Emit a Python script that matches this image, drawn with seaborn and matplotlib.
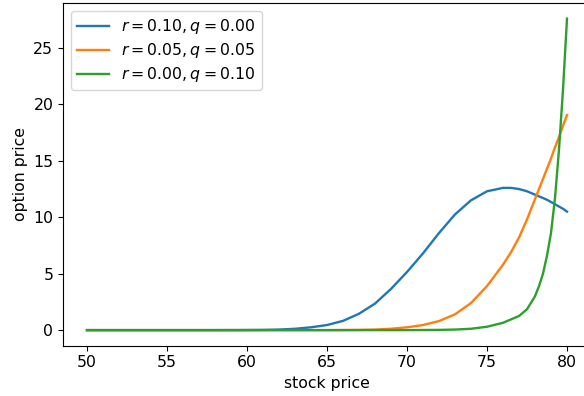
import matplotlib
matplotlib.use("Agg")
import matplotlib.pyplot as plt
import seaborn as sns
import pandas as pd

# precio de la accion (eje x)
stock_price = [50, 55, 58, 60, 61, 62, 63, 64, 65, 66, 67, 68, 69, 70, 71, 72, 73, 74, 75,
               76, 76.5, 77, 77.5, 78, 78.25, 78.5, 78.75, 79, 79.25, 79.5, 79.75, 80]

# valores
price_r10_q00 = [0, 0, 0, 0.01, 0.02, 0.05, 0.12, 0.25, 0.45, 0.82, 1.45, 2.35, 3.65, 5.15, 6.8,
                 8.6, 10.25, 11.5, 12.3, 12.6, 12.6, 12.5, 12.3, 12.0, 11.85, 11.7, 11.55, 11.35,
                 11.15, 10.95, 10.75, 10.5]
price_r05_q05 = [0, 0, 0, 0, 0, 0, 0, 0, 0, 0.01, 0.02, 0.05, 0.12, 0.25, 0.45, 0.8, 1.4, 2.4,
                 3.9, 5.8, 6.9, 8.2, 9.8, 11.6, 12.5, 13.4, 14.3, 15.2, 16.2, 17.1, 18.1, 19.05]
price_r00_q10 = [0, 0, 0, 0, 0, 0, 0, 0, 0, 0, 0, 0, 0, 0, 0.01, 0.02, 0.05, 0.12, 0.3, 0.65,
                 0.95, 1.25, 1.85, 3.0, 3.9, 5.0, 6.6, 8.6, 11.7, 16.0, 21.3, 27.6]

labels = [r"$r=0.10, q=0.00$", r"$r=0.05, q=0.05$", r"$r=0.00, q=0.10$"]

frames = []
for lab, vals in zip(labels, [price_r10_q00, price_r05_q05, price_r00_q10]):
    frames.append(pd.DataFrame({"stock price": stock_price, "option price": vals, "case": lab}))
df = pd.concat(frames, ignore_index=True)

plt.rcParams["font.size"] = 11.3
plt.rcParams["lines.linewidth"] = 1.7

fig = plt.figure(figsize=(5.84, 3.96), dpi=100)
ax = fig.add_axes([63 / 584, (396 - 345.7) / 396, 528 / 584, 342.7 / 396])

sns.lineplot(data=df, x="stock price", y="option price", hue="case",
             palette=["#1f77b4", "#ff7f0e", "#2ca02c"], ax=ax)
ax.legend(loc="upper left", labelspacing=0.32)
ax.set_xlabel("stock price")
ax.set_ylabel("option price")

fig.savefig("out.png", dpi=100)
